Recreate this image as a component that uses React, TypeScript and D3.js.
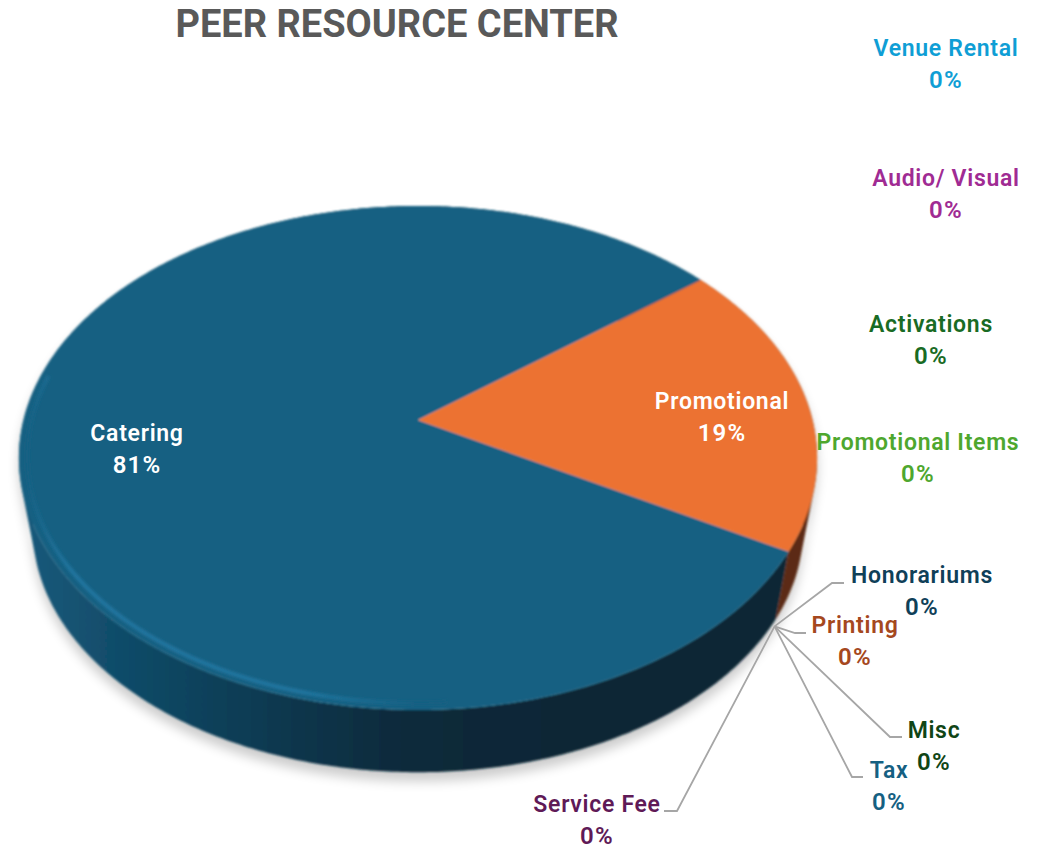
import React from 'react';
import * as d3 from 'd3';

// values, in pie order (clockwise from the top of the orange slice)
const categories = ['Promotional', 'Promotional Items', 'Activations', 'Audio/ Visual', 'Venue Rental',
  'Honorariums', 'Printing', 'Misc', 'Tax', 'Service Fee', 'Catering'];
const shares = [0.189, 0, 0, 0, 0, 0, 0, 0, 0, 0, 0.811];
const labelColors = ['#ffffff', '#4EA72E', '#196B24', '#A02B93', '#0F9ED5',
  '#0F4058', '#A5481E', '#104516', '#156082', '#5F1A57', '#ffffff'];
// label centre x / first baseline, hand placed like the original
const labelX = [722, 918, 931, 946, 946, 922, 855, 934, 889, 597, 137];
const labelY = [409, 450, 332, 186, 56, 583, 633, 738, 778, 812, 441];
// leader elbows: [name, elbow x, elbow y, end x]
const leaders: [string, number, number, number][] = [
  ['Honorariums', 832, 583, 844],
  ['Printing', 795, 633, 806],
  ['Misc', 890, 737, 902],
  ['Tax', 852, 777, 863],
  ['Service Fee', 677, 811, 664],
];

const WIDTH = 1048;
const HEIGHT = 850;
const FONT = 'Roboto, "Noto Sans", sans-serif';

// the pie is tilted with perspective, so the centre of the circle is not the centre of the ellipse
const cx = 418;
const apexY = 420;
const persp = 0.1508;
const scaleX = 394.5;
const scaleY = 246.3;
const ellipseY = 458;
const lowerY = 529;
const lowerK = 0.965;

const startAngle = (51.6 * Math.PI) / 180;

type Pt = [number, number];

function top(a: number, r = 1): Pt {
  const u = r * Math.sin(a);
  const v = -r * Math.cos(a);
  const w = 1 - persp * v;
  return [cx + (scaleX * u) / w, apexY + (scaleY * v) / w];
}

function bottom(a: number, r = 1): Pt {
  const p = top(a, r);
  return [cx + (p[0] - cx) * lowerK, lowerY + (p[1] - ellipseY) * lowerK];
}

function samples(a0: number, a1: number): number[] {
  const n = Math.max(2, Math.ceil(Math.abs(a1 - a0) / 0.01));
  return d3.range(n + 1).map((i) => a0 + ((a1 - a0) * i) / n);
}

const line = d3.line<Pt>().curve(d3.curveLinear);
const closed = d3.line<Pt>().curve(d3.curveLinearClosed);

const arcs = d3
  .pie<number>()
  .sort(null)
  .startAngle(startAngle)
  .endAngle(startAngle + Math.PI * 2)(shares);

const topSlice = (a0: number, a1: number) => closed([[cx, apexY], ...samples(a0, a1).map((a) => top(a))]) as string;

// wall = overlapping little hulls between upper and lower rim, so the silhouette stays convex
const wall = (a0: number, a1: number) => {
  const s = samples(a0, a1);
  return d3
    .range(s.length - 2)
    .map((i) => {
      const pts = s.slice(i, i + 3).flatMap((a) => [top(a), bottom(a)]);
      return closed(d3.polygonHull(pts) as Pt[]);
    })
    .join('');
};

const promo = arcs[0];
const catering = arcs[arcs.length - 1];
const zeroAngle = arcs[5].startAngle;
const rimFoot = bottom(zeroAngle);
const anchor: Pt = [rimFoot[0] - 1, rimFoot[1] + 7];
const pct = d3.format('.0%');

export default function App() {
  const body = wall(0, Math.PI * 2);
  const frontRim = line(samples(Math.PI * 0.98, Math.PI * 1.56).map((a) => top(a, 0.98))) as string;
  return (
    <svg width={WIDTH} height={HEIGHT} style={{ position: 'absolute', left: 0, top: 0, display: 'block' }}>
      <defs>
        <linearGradient id="wallBlue" gradientUnits="userSpaceOnUse" x1={18} x2={790} y1={0} y2={0}>
          <stop offset="0" stopColor="#155A7C" />
          <stop offset="0.14" stopColor="#114B68" />
          <stop offset="0.36" stopColor="#0C364C" />
          <stop offset="0.5" stopColor="#092A3B" />
          <stop offset="0.75" stopColor="#082635" />
          <stop offset="1" stopColor="#082635" />
        </linearGradient>
        <linearGradient id="rimLight" gradientUnits="userSpaceOnUse" x1={25} x2={420} y1={0} y2={0}>
          <stop offset="0" stopColor="#156082" />
          <stop offset="0.12" stopColor="#2076A0" />
          <stop offset="0.7" stopColor="#2076A0" />
          <stop offset="1" stopColor="#156082" />
        </linearGradient>
        <filter id="soft" x="-10%" y="-10%" width="120%" height="120%">
          <feGaussianBlur stdDeviation="6" />
        </filter>
        <filter id="edge" x="-5%" y="-5%" width="110%" height="110%">
          <feGaussianBlur stdDeviation="1.7" />
        </filter>
        <filter id="tiny" x="-5%" y="-5%" width="110%" height="110%">
          <feGaussianBlur stdDeviation="0.9" />
        </filter>
      </defs>

      <text x={397} y={37} textAnchor="middle" fontFamily={FONT} fontWeight={700} fontSize={38} fill="#595959">
        PEER RESOURCE CENTER
      </text>

      {/* drop shadow */}
      <path d={body} fill="#000" opacity={0.2} transform="translate(0,9)" filter="url(#soft)" />

      {/* walls and top faces blurred together, otherwise white leaks through at the rim */}
      <g filter="url(#tiny)">
        <path d={wall(catering.startAngle, catering.endAngle)} fill="url(#wallBlue)" />
        <path d={wall(promo.startAngle, promo.endAngle)} fill="#5C2B12" />
        <path d={topSlice(catering.startAngle, catering.endAngle)} fill="#156082" />
        <path d={topSlice(promo.startAngle, promo.endAngle)} fill="#EC7231" />
      </g>
      <path d={frontRim} fill="none" stroke="url(#rimLight)" strokeWidth={4} filter="url(#edge)" />

      {/* leader lines */}
      {leaders.map(([name, ex, ey, end]) => (
        <path
          key={name}
          d={line([anchor, [ex, ey], [end, ey]]) as string}
          fill="none"
          stroke="#A6A6A6"
          strokeWidth={1.8}
        />
      ))}

      {/* labels */}
      {arcs.map((d, i) => (
        <text
          key={categories[i]}
          textAnchor="middle"
          fontFamily={FONT}
          fontWeight={600}
          fontSize={23}
          fill={labelColors[i]}
        >
          <tspan x={labelX[i]} y={labelY[i]} letterSpacing={0.7}>{categories[i]}</tspan>
          <tspan x={labelX[i]} y={labelY[i] + 32} fontSize={24} letterSpacing={1.2}>{pct(d.data)}</tspan>
        </text>
      ))}
    </svg>
  );
}
